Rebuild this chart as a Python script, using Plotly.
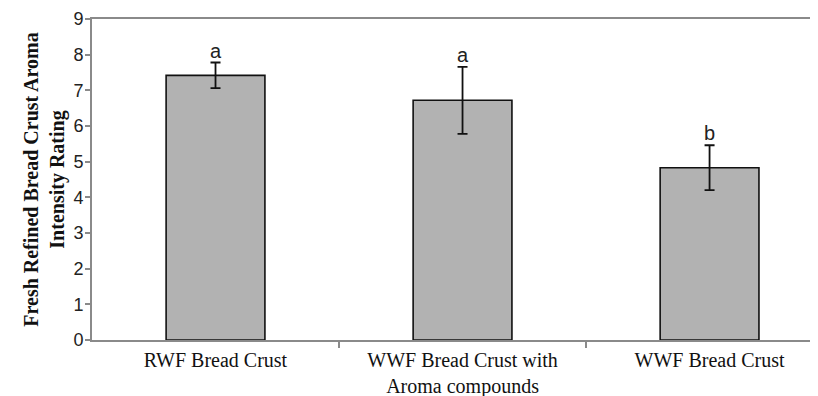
import plotly.graph_objects as go

categories = ["RWF Bread Crust", "WWF Bread Crust with<br>Aroma compounds", "WWF Bread Crust"]
means = [7.42, 6.72, 4.83]
errors = [0.36, 0.94, 0.63]
letters = ["a", "a", "b"]
y_ticks = [0, 1, 2, 3, 4, 5, 6, 7, 8, 9]

x = list(range(len(categories)))

fig = go.Figure()
fig.add_trace(go.Bar(
    x=x, y=means, width=0.4,
    marker=dict(color="#b2b2b2", line=dict(color="#111111", width=1.6)),
    error_y=dict(type="data", array=errors, visible=True, color="#111111",
                 thickness=1.8, width=5),
    showlegend=False,
))
fig.add_trace(go.Scatter(
    x=x, y=[m + e for m, e in zip(means, errors)],
    mode="text", text=letters, textposition="top center",
    textfont=dict(family="Liberation Sans, Arial", size=20, color="#222222"),
    showlegend=False, cliponaxis=False,
))

# body has an 8px default margin in the page, so compensate
fig.update_layout(
    width=810, height=388,
    margin=dict(l=84, r=0, t=11, b=56),
    paper_bgcolor="white", plot_bgcolor="white",
)
fig.update_xaxes(
    range=[-0.5, 2.439], automargin=False,
    tickvals=x, ticktext=categories, ticks="",
    tickfont=dict(family="Liberation Serif, Times New Roman", size=20, color="#111111"),
    ticklabelstandoff=1,
    showline=True, linecolor="#8a8a8a", linewidth=2, mirror=True,
    showgrid=False, zeroline=False,
    minor=dict(tickvals=[0.5, 1.5], ticks="outside", ticklen=6, tickcolor="#8a8a8a", tickwidth=1.5, showgrid=False),
)
fig.update_yaxes(
    range=[0, 9], tickvals=y_ticks, automargin=False,
    ticks="outside", ticklen=5, tickcolor="#8a8a8a", tickwidth=1.5,
    tickfont=dict(family="Liberation Sans, Arial", size=18, color="#222222"),
    ticklabelstandoff=-2,
    showline=True, linecolor="#8a8a8a", linewidth=2,
    showgrid=False, zeroline=False,
    title=dict(text="<b>Fresh Refined Bread Crust Aroma<br>Intensity Rating</b>",
               font=dict(family="Liberation Serif, Times New Roman", size=20, color="#111111"),
               standoff=3),
)

fig.write_html("out.html")
